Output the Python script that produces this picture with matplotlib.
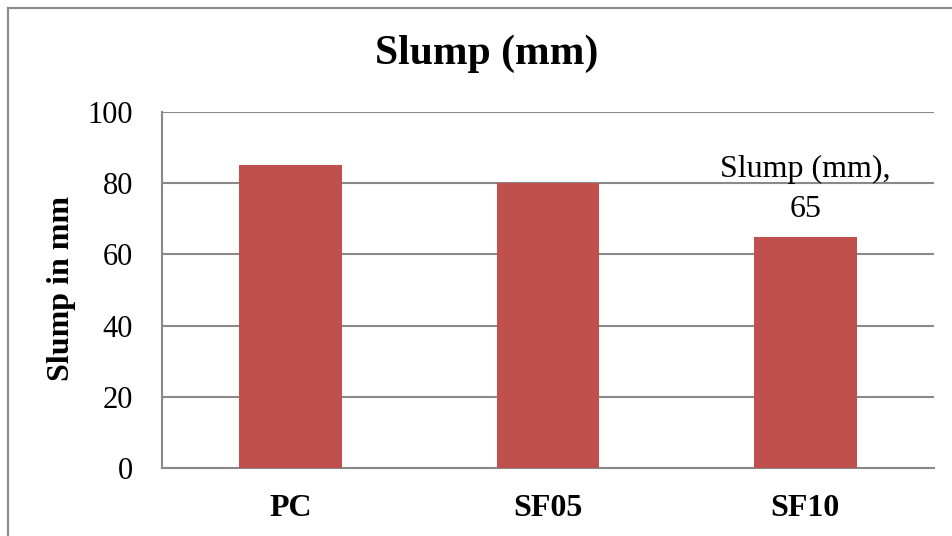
import matplotlib.pyplot as plt
from matplotlib.lines import Line2D

# Slump test results per mix
mixes = ['PC', 'SF05', 'SF10']
slump_mm = [85, 80, 65]
y_ticks = [0, 20, 40, 60, 80, 100]

bar_color = '#C0504D'
line_color = '#898989'

plt.rcParams['font.family'] = ['Liberation Serif', 'DejaVu Serif']

fig = plt.figure(figsize=(9.52, 5.36), dpi=100)
ax = fig.add_axes([0.1702, 0.1269, 0.8109, 0.6641])

x = range(len(mixes))
ax.bar(x, slump_mm, width=0.4, color=bar_color, zorder=3)

ax.set_xlim(-0.5, len(mixes) - 0.5)
ax.set_ylim(0, 100)
ax.set_yticks(y_ticks)
ax.set_xticks(list(x))
ax.set_xticklabels(mixes, fontsize=23, fontweight='bold')
ax.tick_params(axis='y', labelsize=22, length=0, pad=21)
ax.tick_params(axis='x', length=0, pad=19)

ax.yaxis.grid(True, color=line_color, linewidth=1.5, zorder=0)
ax.set_axisbelow(True)
for side in ['top', 'right']:
    ax.spines[side].set_visible(False)
for side in ['left', 'bottom']:
    ax.spines[side].set_color(line_color)
    ax.spines[side].set_linewidth(1.5)

# data label on the last bar only
ax.annotate('Slump (mm),\n65', xy=(2, slump_mm[2]), xytext=(0, 9),
            textcoords='offset points', ha='center', va='bottom',
            fontsize=23, linespacing=1.5)

fig.text(0.511, 0.899, 'Slump (mm)', ha='center', va='center',
         fontsize=30, fontweight='bold')
fig.text(0.065, 0.461, 'Slump in mm', ha='center', va='center',
         rotation=90, fontsize=23, fontweight='bold')

# chart area border
bx = 7.5 / 952
by = 1 - 7.5 / 536
fig.add_artist(Line2D([bx, bx], [0, by], color=line_color, linewidth=1.5))
fig.add_artist(Line2D([bx, 1], [by, by], color=line_color, linewidth=1.5))

fig.savefig('out.png', dpi=100)
